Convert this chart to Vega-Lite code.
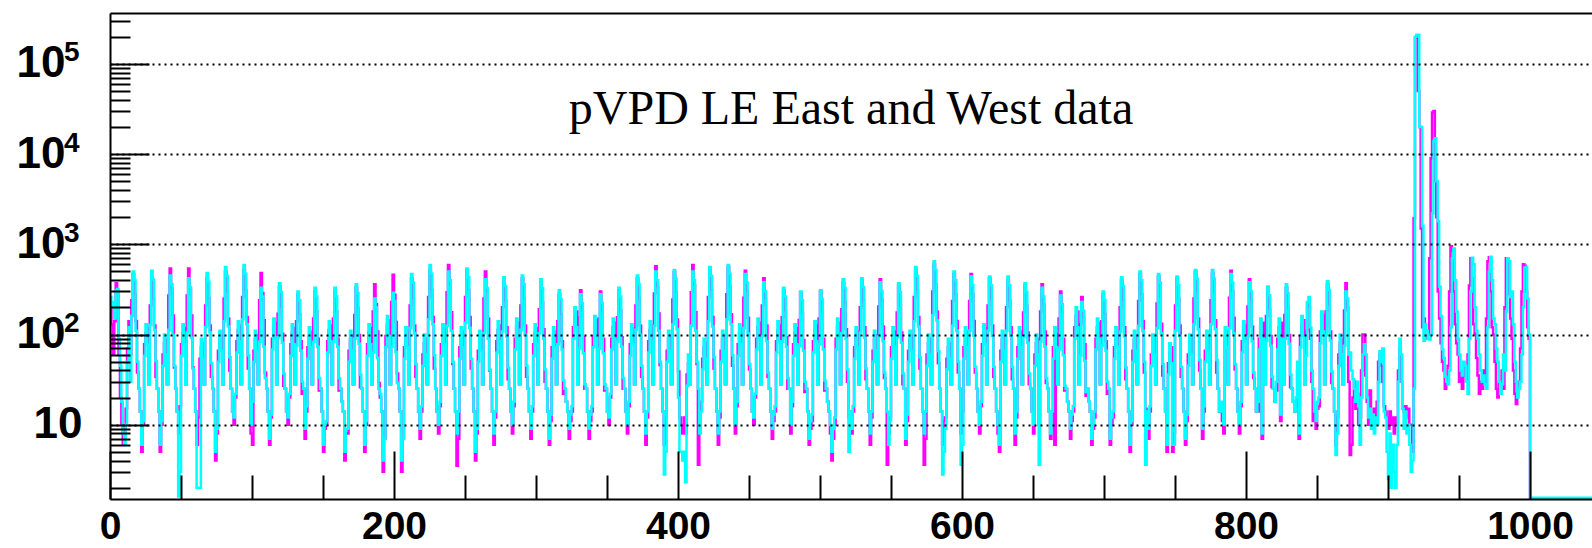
{
"$schema": "https://vega.github.io/schema/vega-lite/v6.json",
"width": 1482, "height": 486,
"autosize": {"type": "none"},
"padding": {"left": 110, "top": 13, "right": 0, "bottom": 49},
"background": "white",
"config": {"view": {"stroke": null}},
"title": {"text": "pVPD LE East and West data", "font": "Liberation Serif", "fontSize": 48, "fontWeight": "normal", "color": "black", "anchor": "middle", "frame": "group", "baseline": "alphabetic", "offset": -173},
"data": {"values": [
{"b":0,"c":260,"m":200},{"b":1,"c":200,"m":130},{"b":2,"c":230,"m":60},{"b":3,"c":150,"m":140},{"b":4,"c":310,"m":370},{"b":5,"c":320,"m":300},{"b":6,"c":90,"m":60},{"b":7,"c":45,"m":20},{"b":8,"c":18,"m":10},{"b":9,"c":8,"m":6},{"b":10,"c":6,"m":9},{"b":11,"c":10,"m":15},{"b":12,"c":50,"m":70},{"b":13,"c":120,"m":140},{"b":14,"c":30,"m":60},{"b":15,"c":160,"m":240},
{"b":16,"c":500,"m":470},{"b":17,"c":400,"m":282},{"b":18,"c":110,"m":141},{"b":19,"c":50,"m":38},{"b":20,"c":25,"m":25},{"b":21,"c":14,"m":14},{"b":22,"c":6,"m":5},{"b":23,"c":11,"m":10},{"b":24,"c":58,"m":78},{"b":25,"c":130,"m":104},{"b":26,"c":78,"m":117},{"b":27,"c":28,"m":28},{"b":28,"c":128,"m":210},
{"b":29,"c":510,"m":420},{"b":30,"c":408,"m":252},{"b":31,"c":112,"m":126},{"b":32,"c":51,"m":34},{"b":33,"c":25,"m":25},{"b":34,"c":14,"m":14},{"b":35,"c":6,"m":5},{"b":36,"c":11,"m":10},{"b":37,"c":45,"m":60},{"b":38,"c":100,"m":80},{"b":39,"c":60,"m":90},{"b":40,"c":28,"m":28},{"b":41,"c":113,"m":270},
{"b":42,"c":450,"m":540},{"b":43,"c":360,"m":324},{"b":44,"c":99,"m":162},{"b":45,"c":45,"m":43},{"b":46,"c":25,"m":25},{"b":47,"c":14,"m":14},{"b":48,"c":1.6,"m":8},{"b":49,"c":3,"m":16},{"b":50,"c":58,"m":78},{"b":51,"c":130,"m":104},{"b":52,"c":78,"m":117},{"b":53,"c":28,"m":28},{"b":54,"c":105,"m":270},
{"b":55,"c":420,"m":540},{"b":56,"c":336,"m":324},{"b":57,"c":92,"m":162},{"b":58,"c":42,"m":43},{"b":59,"c":25,"m":25},{"b":60,"c":14,"m":14},{"b":61,"c":2,"m":6},{"b":62,"c":2,"m":12},{"b":63,"c":2,"m":54},{"b":64,"c":90,"m":72},{"b":65,"c":54,"m":81},{"b":66,"c":28,"m":28},{"b":67,"c":120,"m":210},
{"b":68,"c":480,"m":420},{"b":69,"c":384,"m":252},{"b":70,"c":106,"m":126},{"b":71,"c":48,"m":34},{"b":72,"c":25,"m":25},{"b":73,"c":14,"m":14},{"b":74,"c":5,"m":4},{"b":75,"c":9,"m":8},{"b":76,"c":50,"m":66},{"b":77,"c":110,"m":88},{"b":78,"c":66,"m":99},{"b":79,"c":28,"m":28},{"b":80,"c":140,"m":250},
{"b":81,"c":560,"m":500},{"b":82,"c":448,"m":300},{"b":83,"c":123,"m":150},{"b":84,"c":56,"m":40},{"b":85,"c":25,"m":25},{"b":86,"c":14,"m":14},{"b":87,"c":12,"m":10},{"b":88,"c":22,"m":20},{"b":89,"c":63,"m":84},{"b":90,"c":140,"m":112},{"b":91,"c":84,"m":126},{"b":92,"c":28,"m":28},{"b":93,"c":148,"m":260},
{"b":94,"c":590,"m":520},{"b":95,"c":472,"m":312},{"b":96,"c":130,"m":156},{"b":97,"c":59,"m":42},{"b":98,"c":25,"m":25},{"b":99,"c":10,"m":8},{"b":100,"c":18,"m":6},{"b":101,"c":50,"m":66},{"b":102,"c":110,"m":88},{"b":103,"c":66,"m":99},{"b":104,"c":28,"m":28},{"b":105,"c":83,"m":240},
{"b":106,"c":330,"m":480},{"b":107,"c":264,"m":288},{"b":108,"c":73,"m":144},{"b":109,"c":33,"m":38},{"b":110,"c":25,"m":25},{"b":111,"c":14,"m":14},{"b":112,"c":7,"m":6},{"b":113,"c":13,"m":12},{"b":114,"c":68,"m":90},{"b":115,"c":150,"m":120},{"b":116,"c":90,"m":135},{"b":117,"c":28,"m":28},{"b":118,"c":93,"m":170},
{"b":119,"c":370,"m":340},{"b":120,"c":296,"m":204},{"b":121,"c":81,"m":102},{"b":122,"c":37,"m":27},{"b":123,"c":25,"m":25},{"b":124,"c":14,"m":14},{"b":125,"c":12,"m":10},{"b":126,"c":22,"m":20},{"b":127,"c":58,"m":78},{"b":128,"c":130,"m":104},{"b":129,"c":78,"m":117},{"b":130,"c":28,"m":28},{"b":131,"c":75,"m":140},
{"b":132,"c":300,"m":280},{"b":133,"c":240,"m":168},{"b":134,"c":66,"m":84},{"b":135,"c":30,"m":22},{"b":136,"c":25,"m":25},{"b":137,"c":9,"m":7},{"b":138,"c":16,"m":14},{"b":139,"c":54,"m":72},{"b":140,"c":120,"m":96},{"b":141,"c":72,"m":108},{"b":142,"c":28,"m":28},{"b":143,"c":83,"m":150},
{"b":144,"c":330,"m":300},{"b":145,"c":264,"m":180},{"b":146,"c":73,"m":90},{"b":147,"c":33,"m":24},{"b":148,"c":25,"m":25},{"b":149,"c":14,"m":14},{"b":150,"c":6,"m":5},{"b":151,"c":10,"m":9},{"b":152,"c":11,"m":10},{"b":153,"c":63,"m":84},{"b":154,"c":140,"m":112},{"b":155,"c":84,"m":126},{"b":156,"c":28,"m":28},{"b":157,"c":83,"m":150},
{"b":158,"c":330,"m":300},{"b":159,"c":264,"m":180},{"b":160,"c":73,"m":90},{"b":161,"c":33,"m":24},{"b":162,"c":25,"m":25},{"b":163,"c":18,"m":18},{"b":164,"c":14,"m":14},{"b":165,"c":5,"m":4},{"b":166,"c":9,"m":8},{"b":167,"c":9,"m":8},{"b":168,"c":50,"m":66},{"b":169,"c":110,"m":88},{"b":170,"c":66,"m":99},{"b":171,"c":28,"m":28},{"b":172,"c":90,"m":165},
{"b":173,"c":360,"m":330},{"b":174,"c":288,"m":198},{"b":175,"c":79,"m":99},{"b":176,"c":36,"m":26},{"b":177,"c":25,"m":25},{"b":178,"c":14,"m":14},{"b":179,"c":6,"m":5},{"b":180,"c":11,"m":10},{"b":181,"c":58,"m":78},{"b":182,"c":130,"m":104},{"b":183,"c":78,"m":117},{"b":184,"c":28,"m":28},{"b":185,"c":63,"m":180},
{"b":186,"c":250,"m":360},{"b":187,"c":200,"m":216},{"b":188,"c":55,"m":108},{"b":189,"c":25,"m":29},{"b":190,"c":22,"m":20},{"b":191,"c":14,"m":14},{"b":192,"c":4,"m":3},{"b":193,"c":7,"m":7},{"b":194,"c":72,"m":96},{"b":195,"c":160,"m":128},{"b":196,"c":96,"m":144},{"b":197,"c":28,"m":28},{"b":198,"c":73,"m":230},
{"b":199,"c":290,"m":460},{"b":200,"c":232,"m":276},{"b":201,"c":64,"m":138},{"b":202,"c":29,"m":37},{"b":203,"c":25,"m":25},{"b":204,"c":14,"m":14},{"b":205,"c":4,"m":3},{"b":206,"c":7,"m":7},{"b":207,"c":54,"m":72},{"b":208,"c":120,"m":96},{"b":209,"c":72,"m":108},{"b":210,"c":28,"m":28},{"b":211,"c":118,"m":210},
{"b":212,"c":470,"m":420},{"b":213,"c":376,"m":252},{"b":214,"c":103,"m":126},{"b":215,"c":47,"m":34},{"b":216,"c":25,"m":25},{"b":217,"c":14,"m":14},{"b":218,"c":9,"m":7},{"b":219,"c":16,"m":14},{"b":220,"c":45,"m":60},{"b":221,"c":100,"m":80},{"b":222,"c":60,"m":90},{"b":223,"c":28,"m":28},{"b":224,"c":148,"m":260},
{"b":225,"c":590,"m":520},{"b":226,"c":472,"m":312},{"b":227,"c":130,"m":156},{"b":228,"c":59,"m":42},{"b":229,"c":25,"m":25},{"b":230,"c":14,"m":14},{"b":231,"c":10,"m":8},{"b":232,"c":18,"m":16},{"b":233,"c":58,"m":78},{"b":234,"c":130,"m":104},{"b":235,"c":78,"m":117},{"b":236,"c":28,"m":28},{"b":237,"c":125,"m":295},
{"b":238,"c":500,"m":590},{"b":239,"c":400,"m":354},{"b":240,"c":110,"m":177},{"b":241,"c":50,"m":47},{"b":242,"c":25,"m":25},{"b":243,"c":14,"m":14},{"b":244,"c":8,"m":3.5},{"b":245,"c":14,"m":7},{"b":246,"c":54,"m":72},{"b":247,"c":120,"m":96},{"b":248,"c":72,"m":108},{"b":249,"c":28,"m":28},{"b":250,"c":135,"m":260},
{"b":251,"c":540,"m":520},{"b":252,"c":432,"m":312},{"b":253,"c":119,"m":156},{"b":254,"c":54,"m":42},{"b":255,"c":25,"m":25},{"b":256,"c":14,"m":14},{"b":257,"c":5,"m":4},{"b":258,"c":9,"m":8},{"b":259,"c":50,"m":66},{"b":260,"c":110,"m":88},{"b":261,"c":66,"m":99},{"b":262,"c":28,"m":28},{"b":263,"c":103,"m":250},
{"b":264,"c":410,"m":500},{"b":265,"c":328,"m":300},{"b":266,"c":90,"m":150},{"b":267,"c":41,"m":40},{"b":268,"c":25,"m":25},{"b":269,"c":14,"m":14},{"b":270,"c":8,"m":6},{"b":271,"c":14,"m":12},{"b":272,"c":63,"m":84},{"b":273,"c":140,"m":112},{"b":274,"c":84,"m":126},{"b":275,"c":28,"m":28},{"b":276,"c":108,"m":200},
{"b":277,"c":430,"m":400},{"b":278,"c":344,"m":240},{"b":279,"c":95,"m":120},{"b":280,"c":43,"m":32},{"b":281,"c":25,"m":25},{"b":282,"c":14,"m":14},{"b":283,"c":10,"m":8},{"b":284,"c":18,"m":16},{"b":285,"c":68,"m":90},{"b":286,"c":150,"m":120},{"b":287,"c":90,"m":135},{"b":288,"c":28,"m":28},{"b":289,"c":113,"m":210},
{"b":290,"c":450,"m":420},{"b":291,"c":360,"m":252},{"b":292,"c":99,"m":126},{"b":293,"c":45,"m":34},{"b":294,"c":25,"m":25},{"b":295,"c":14,"m":14},{"b":296,"c":9,"m":7},{"b":297,"c":16,"m":14},{"b":298,"c":58,"m":78},{"b":299,"c":130,"m":104},{"b":300,"c":78,"m":117},{"b":301,"c":28,"m":28},{"b":302,"c":103,"m":190},
{"b":303,"c":410,"m":380},{"b":304,"c":328,"m":228},{"b":305,"c":90,"m":114},{"b":306,"c":41,"m":30},{"b":307,"c":25,"m":25},{"b":308,"c":14,"m":14},{"b":309,"c":7,"m":6},{"b":310,"c":13,"m":11},{"b":311,"c":54,"m":72},{"b":312,"c":120,"m":96},{"b":313,"c":72,"m":108},{"b":314,"c":28,"m":28},{"b":315,"c":78,"m":140},
{"b":316,"c":310,"m":280},{"b":317,"c":248,"m":168},{"b":318,"c":68,"m":84},{"b":319,"c":31,"m":22},{"b":320,"c":25,"m":25},{"b":321,"c":18,"m":18},{"b":322,"c":14,"m":14},{"b":323,"c":9,"m":7},{"b":324,"c":13,"m":11},{"b":325,"c":16,"m":14},{"b":326,"c":90,"m":120},{"b":327,"c":200,"m":160},{"b":328,"c":120,"m":180},{"b":329,"c":28,"m":28},{"b":330,"c":70,"m":155},
{"b":331,"c":280,"m":310},{"b":332,"c":224,"m":186},{"b":333,"c":62,"m":93},{"b":334,"c":28,"m":25},{"b":335,"c":25,"m":25},{"b":336,"c":14,"m":14},{"b":337,"c":9,"m":7},{"b":338,"c":13,"m":11},{"b":339,"c":16,"m":14},{"b":340,"c":72,"m":96},{"b":341,"c":160,"m":128},{"b":342,"c":96,"m":144},{"b":343,"c":28,"m":28},{"b":344,"c":70,"m":150},
{"b":345,"c":280,"m":300},{"b":346,"c":224,"m":180},{"b":347,"c":62,"m":90},{"b":348,"c":28,"m":24},{"b":349,"c":25,"m":25},{"b":350,"c":14,"m":14},{"b":351,"c":12,"m":10},{"b":352,"c":22,"m":20},{"b":353,"c":68,"m":90},{"b":354,"c":150,"m":120},{"b":355,"c":90,"m":135},{"b":356,"c":28,"m":28},{"b":357,"c":83,"m":155},
{"b":358,"c":330,"m":310},{"b":359,"c":264,"m":186},{"b":360,"c":73,"m":93},{"b":361,"c":33,"m":25},{"b":362,"c":25,"m":25},{"b":363,"c":14,"m":14},{"b":364,"c":10,"m":8},{"b":365,"c":18,"m":16},{"b":366,"c":58,"m":78},{"b":367,"c":130,"m":104},{"b":368,"c":78,"m":117},{"b":369,"c":28,"m":28},{"b":370,"c":113,"m":210},
{"b":371,"c":450,"m":420},{"b":372,"c":360,"m":252},{"b":373,"c":99,"m":126},{"b":374,"c":45,"m":34},{"b":375,"c":25,"m":25},{"b":376,"c":14,"m":14},{"b":377,"c":8,"m":6},{"b":378,"c":14,"m":12},{"b":379,"c":63,"m":84},{"b":380,"c":140,"m":112},{"b":381,"c":84,"m":126},{"b":382,"c":28,"m":28},{"b":383,"c":125,"m":285},
{"b":384,"c":500,"m":570},{"b":385,"c":400,"m":342},{"b":386,"c":110,"m":171},{"b":387,"c":50,"m":46},{"b":388,"c":25,"m":25},{"b":389,"c":14,"m":14},{"b":390,"c":2.8,"m":6},{"b":391,"c":5,"m":12},{"b":392,"c":50,"m":66},{"b":393,"c":110,"m":88},{"b":394,"c":66,"m":99},{"b":395,"c":28,"m":28},{"b":396,"c":130,"m":245},
{"b":397,"c":520,"m":490},{"b":398,"c":416,"m":294},{"b":399,"c":114,"m":147},{"b":400,"c":20,"m":39},{"b":401,"c":5,"m":12},{"b":402,"c":5,"m":10},{"b":403,"c":4,"m":8},{"b":404,"c":5,"m":12},{"b":405,"c":2.3,"m":8},{"b":406,"c":27,"m":36},{"b":407,"c":60,"m":48},{"b":408,"c":28,"m":28},{"b":409,"c":125,"m":295},
{"b":410,"c":500,"m":590},{"b":411,"c":400,"m":354},{"b":412,"c":110,"m":177},{"b":413,"c":50,"m":47},{"b":414,"c":25,"m":3.6},{"b":415,"c":8,"m":9},{"b":416,"c":14,"m":18},{"b":417,"c":41,"m":54},{"b":418,"c":90,"m":72},{"b":419,"c":54,"m":81},{"b":420,"c":28,"m":28},{"b":421,"c":140,"m":260},
{"b":422,"c":560,"m":520},{"b":423,"c":448,"m":312},{"b":424,"c":123,"m":156},{"b":425,"c":56,"m":42},{"b":426,"c":25,"m":25},{"b":427,"c":14,"m":14},{"b":428,"c":8,"m":6},{"b":429,"c":14,"m":12},{"b":430,"c":50,"m":66},{"b":431,"c":110,"m":88},{"b":432,"c":66,"m":99},{"b":433,"c":28,"m":28},{"b":434,"c":148,"m":280},
{"b":435,"c":590,"m":560},{"b":436,"c":472,"m":336},{"b":437,"c":130,"m":168},{"b":438,"c":59,"m":45},{"b":439,"c":25,"m":25},{"b":440,"c":10,"m":8},{"b":441,"c":18,"m":16},{"b":442,"c":58,"m":78},{"b":443,"c":130,"m":104},{"b":444,"c":78,"m":117},{"b":445,"c":28,"m":28},{"b":446,"c":118,"m":255},
{"b":447,"c":470,"m":510},{"b":448,"c":376,"m":306},{"b":449,"c":103,"m":153},{"b":450,"c":47,"m":41},{"b":451,"c":25,"m":25},{"b":452,"c":14,"m":14},{"b":453,"c":12,"m":10},{"b":454,"c":22,"m":20},{"b":455,"c":68,"m":90},{"b":456,"c":150,"m":120},{"b":457,"c":90,"m":135},{"b":458,"c":28,"m":28},{"b":459,"c":95,"m":210},
{"b":460,"c":380,"m":420},{"b":461,"c":304,"m":252},{"b":462,"c":84,"m":126},{"b":463,"c":38,"m":34},{"b":464,"c":25,"m":25},{"b":465,"c":14,"m":14},{"b":466,"c":9,"m":7},{"b":467,"c":13,"m":11},{"b":468,"c":16,"m":14},{"b":469,"c":63,"m":84},{"b":470,"c":140,"m":112},{"b":471,"c":84,"m":126},{"b":472,"c":28,"m":28},{"b":473,"c":83,"m":155},
{"b":474,"c":330,"m":310},{"b":475,"c":264,"m":186},{"b":476,"c":73,"m":93},{"b":477,"c":33,"m":25},{"b":478,"c":25,"m":25},{"b":479,"c":10,"m":8},{"b":480,"c":18,"m":16},{"b":481,"c":58,"m":78},{"b":482,"c":130,"m":104},{"b":483,"c":78,"m":117},{"b":484,"c":28,"m":28},{"b":485,"c":75,"m":145},
{"b":486,"c":300,"m":290},{"b":487,"c":240,"m":174},{"b":488,"c":66,"m":87},{"b":489,"c":30,"m":23},{"b":490,"c":25,"m":25},{"b":491,"c":14,"m":14},{"b":492,"c":7,"m":6},{"b":493,"c":11,"m":9},{"b":494,"c":13,"m":11},{"b":495,"c":63,"m":84},{"b":496,"c":140,"m":112},{"b":497,"c":84,"m":126},{"b":498,"c":28,"m":28},{"b":499,"c":78,"m":150},
{"b":500,"c":310,"m":300},{"b":501,"c":248,"m":180},{"b":502,"c":68,"m":90},{"b":503,"c":31,"m":24},{"b":504,"c":25,"m":25},{"b":505,"c":18,"m":18},{"b":506,"c":14,"m":14},{"b":507,"c":10,"m":8},{"b":508,"c":5,"m":4},{"b":509,"c":9,"m":7},{"b":510,"c":12,"m":10},{"b":511,"c":68,"m":90},{"b":512,"c":150,"m":120},{"b":513,"c":90,"m":135},{"b":514,"c":28,"m":28},{"b":515,"c":103,"m":190},
{"b":516,"c":410,"m":380},{"b":517,"c":328,"m":228},{"b":518,"c":90,"m":114},{"b":519,"c":41,"m":30},{"b":520,"c":5,"m":12},{"b":521,"c":14,"m":14},{"b":522,"c":9,"m":8},{"b":523,"c":16,"m":14},{"b":524,"c":54,"m":72},{"b":525,"c":120,"m":96},{"b":526,"c":72,"m":108},{"b":527,"c":28,"m":28},{"b":528,"c":105,"m":200},
{"b":529,"c":420,"m":400},{"b":530,"c":336,"m":240},{"b":531,"c":92,"m":120},{"b":532,"c":42,"m":32},{"b":533,"c":25,"m":25},{"b":534,"c":14,"m":14},{"b":535,"c":8,"m":6},{"b":536,"c":14,"m":12},{"b":537,"c":50,"m":66},{"b":538,"c":110,"m":88},{"b":539,"c":66,"m":99},{"b":540,"c":28,"m":28},{"b":541,"c":95,"m":205},
{"b":542,"c":380,"m":410},{"b":543,"c":304,"m":246},{"b":544,"c":84,"m":123},{"b":545,"c":38,"m":33},{"b":546,"c":25,"m":25},{"b":547,"c":14,"m":3.6},{"b":548,"c":6,"m":8},{"b":549,"c":11,"m":12},{"b":550,"c":54,"m":72},{"b":551,"c":120,"m":96},{"b":552,"c":72,"m":108},{"b":553,"c":28,"m":28},{"b":554,"c":93,"m":175},
{"b":555,"c":370,"m":350},{"b":556,"c":296,"m":210},{"b":557,"c":81,"m":105},{"b":558,"c":37,"m":28},{"b":559,"c":25,"m":25},{"b":560,"c":7,"m":6},{"b":561,"c":13,"m":11},{"b":562,"c":50,"m":66},{"b":563,"c":110,"m":88},{"b":564,"c":66,"m":99},{"b":565,"c":28,"m":28},{"b":566,"c":140,"m":260},
{"b":567,"c":560,"m":520},{"b":568,"c":448,"m":312},{"b":569,"c":123,"m":156},{"b":570,"c":56,"m":42},{"b":571,"c":25,"m":25},{"b":572,"c":14,"m":14},{"b":573,"c":8,"m":3.6},{"b":574,"c":14,"m":7},{"b":575,"c":45,"m":60},{"b":576,"c":100,"m":80},{"b":577,"c":60,"m":90},{"b":578,"c":28,"m":28},{"b":579,"c":163,"m":300},
{"b":580,"c":650,"m":600},{"b":581,"c":520,"m":360},{"b":582,"c":143,"m":180},{"b":583,"c":65,"m":48},{"b":584,"c":25,"m":25},{"b":585,"c":14,"m":14},{"b":586,"c":2.8,"m":6},{"b":587,"c":5,"m":11},{"b":588,"c":9,"m":12},{"b":589,"c":41,"m":54},{"b":590,"c":90,"m":72},{"b":591,"c":54,"m":81},{"b":592,"c":28,"m":28},{"b":593,"c":125,"m":235},
{"b":594,"c":500,"m":470},{"b":595,"c":400,"m":282},{"b":596,"c":110,"m":141},{"b":597,"c":50,"m":38},{"b":598,"c":25,"m":25},{"b":599,"c":3.6,"m":8},{"b":600,"c":6,"m":14},{"b":601,"c":54,"m":72},{"b":602,"c":120,"m":96},{"b":603,"c":72,"m":108},{"b":604,"c":28,"m":28},{"b":605,"c":110,"m":235},
{"b":606,"c":440,"m":470},{"b":607,"c":352,"m":282},{"b":608,"c":97,"m":141},{"b":609,"c":44,"m":38},{"b":610,"c":25,"m":25},{"b":611,"c":14,"m":14},{"b":612,"c":10,"m":8},{"b":613,"c":18,"m":16},{"b":614,"c":58,"m":78},{"b":615,"c":130,"m":104},{"b":616,"c":78,"m":117},{"b":617,"c":28,"m":28},{"b":618,"c":110,"m":210},
{"b":619,"c":440,"m":420},{"b":620,"c":352,"m":252},{"b":621,"c":97,"m":126},{"b":622,"c":44,"m":34},{"b":623,"c":25,"m":25},{"b":624,"c":14,"m":14},{"b":625,"c":10,"m":8},{"b":626,"c":6,"m":5},{"b":627,"c":50,"m":66},{"b":628,"c":110,"m":88},{"b":629,"c":66,"m":99},{"b":630,"c":28,"m":28},{"b":631,"c":110,"m":200},
{"b":632,"c":440,"m":400},{"b":633,"c":352,"m":240},{"b":634,"c":97,"m":120},{"b":635,"c":44,"m":32},{"b":636,"c":25,"m":25},{"b":637,"c":8,"m":6},{"b":638,"c":14,"m":12},{"b":639,"c":54,"m":72},{"b":640,"c":120,"m":96},{"b":641,"c":72,"m":108},{"b":642,"c":28,"m":28},{"b":643,"c":93,"m":175},
{"b":644,"c":370,"m":350},{"b":645,"c":296,"m":210},{"b":646,"c":81,"m":105},{"b":647,"c":37,"m":28},{"b":648,"c":25,"m":25},{"b":649,"c":14,"m":14},{"b":650,"c":10,"m":8},{"b":651,"c":45,"m":60},{"b":652,"c":100,"m":80},{"b":653,"c":60,"m":90},{"b":654,"c":3.6,"m":10},{"b":655,"c":83,"m":180},
{"b":656,"c":330,"m":360},{"b":657,"c":264,"m":216},{"b":658,"c":73,"m":108},{"b":659,"c":33,"m":29},{"b":660,"c":25,"m":25},{"b":661,"c":14,"m":14},{"b":662,"c":8,"m":7},{"b":663,"c":14,"m":14},{"b":664,"c":54,"m":72},{"b":665,"c":120,"m":6},{"b":666,"c":72,"m":100},{"b":667,"c":28,"m":28},{"b":668,"c":68,"m":150},
{"b":669,"c":270,"m":300},{"b":670,"c":216,"m":180},{"b":671,"c":59,"m":90},{"b":672,"c":27,"m":24},{"b":673,"c":25,"m":25},{"b":674,"c":18,"m":18},{"b":675,"c":14,"m":14},{"b":676,"c":9,"m":7},{"b":677,"c":13,"m":11},{"b":678,"c":16,"m":14},{"b":679,"c":90,"m":120},{"b":680,"c":200,"m":160},{"b":681,"c":120,"m":180},{"b":682,"c":28,"m":28},{"b":683,"c":58,"m":130},
{"b":684,"c":230,"m":260},{"b":685,"c":184,"m":156},{"b":686,"c":51,"m":78},{"b":687,"c":23,"m":21},{"b":688,"c":25,"m":25},{"b":689,"c":18,"m":18},{"b":690,"c":14,"m":14},{"b":691,"c":7,"m":6},{"b":692,"c":10,"m":9},{"b":693,"c":14,"m":12},{"b":694,"c":68,"m":90},{"b":695,"c":150,"m":120},{"b":696,"c":90,"m":135},{"b":697,"c":28,"m":28},{"b":698,"c":75,"m":140},
{"b":699,"c":300,"m":280},{"b":700,"c":240,"m":168},{"b":701,"c":66,"m":84},{"b":702,"c":30,"m":22},{"b":703,"c":25,"m":25},{"b":704,"c":7,"m":6},{"b":705,"c":12,"m":10},{"b":706,"c":14,"m":12},{"b":707,"c":54,"m":72},{"b":708,"c":120,"m":96},{"b":709,"c":72,"m":108},{"b":710,"c":28,"m":28},{"b":711,"c":108,"m":200},
{"b":712,"c":430,"m":400},{"b":713,"c":344,"m":240},{"b":714,"c":95,"m":120},{"b":715,"c":43,"m":32},{"b":716,"c":25,"m":25},{"b":717,"c":14,"m":14},{"b":718,"c":6,"m":5},{"b":719,"c":11,"m":10},{"b":720,"c":50,"m":66},{"b":721,"c":110,"m":88},{"b":722,"c":66,"m":99},{"b":723,"c":28,"m":28},{"b":724,"c":125,"m":235},
{"b":725,"c":500,"m":470},{"b":726,"c":400,"m":282},{"b":727,"c":110,"m":141},{"b":728,"c":50,"m":38},{"b":729,"c":3.6,"m":15},{"b":730,"c":14,"m":14},{"b":731,"c":9,"m":7},{"b":732,"c":16,"m":14},{"b":733,"c":45,"m":60},{"b":734,"c":100,"m":80},{"b":735,"c":60,"m":90},{"b":736,"c":28,"m":28},{"b":737,"c":118,"m":220},
{"b":738,"c":470,"m":440},{"b":739,"c":376,"m":264},{"b":740,"c":103,"m":132},{"b":741,"c":47,"m":35},{"b":742,"c":25,"m":25},{"b":743,"c":14,"m":14},{"b":744,"c":6,"m":5},{"b":745,"c":36,"m":48},{"b":746,"c":80,"m":64},{"b":747,"c":48,"m":72},{"b":748,"c":6,"m":5},{"b":749,"c":6,"m":8},{"b":750,"c":110,"m":210},
{"b":751,"c":440,"m":420},{"b":752,"c":352,"m":252},{"b":753,"c":97,"m":126},{"b":754,"c":44,"m":34},{"b":755,"c":25,"m":25},{"b":756,"c":14,"m":14},{"b":757,"c":7,"m":6},{"b":758,"c":13,"m":11},{"b":759,"c":45,"m":60},{"b":760,"c":100,"m":80},{"b":761,"c":60,"m":90},{"b":762,"c":28,"m":28},{"b":763,"c":130,"m":250},
{"b":764,"c":520,"m":500},{"b":765,"c":416,"m":300},{"b":766,"c":114,"m":150},{"b":767,"c":52,"m":40},{"b":768,"c":25,"m":25},{"b":769,"c":9,"m":7},{"b":770,"c":16,"m":14},{"b":771,"c":50,"m":66},{"b":772,"c":110,"m":88},{"b":773,"c":66,"m":99},{"b":774,"c":28,"m":28},{"b":775,"c":130,"m":240},
{"b":776,"c":520,"m":480},{"b":777,"c":416,"m":288},{"b":778,"c":114,"m":144},{"b":779,"c":52,"m":38},{"b":780,"c":25,"m":25},{"b":781,"c":14,"m":14},{"b":782,"c":18,"m":14},{"b":783,"c":14,"m":11},{"b":784,"c":10,"m":8},{"b":785,"c":120,"m":96},{"b":786,"c":72,"m":108},{"b":787,"c":28,"m":28},{"b":788,"c":118,"m":255},
{"b":789,"c":470,"m":510},{"b":790,"c":376,"m":306},{"b":791,"c":103,"m":153},{"b":792,"c":47,"m":41},{"b":793,"c":25,"m":25},{"b":794,"c":14,"m":14},{"b":795,"c":10,"m":8},{"b":796,"c":18,"m":16},{"b":797,"c":63,"m":84},{"b":798,"c":140,"m":112},{"b":799,"c":84,"m":126},{"b":800,"c":28,"m":28},{"b":801,"c":95,"m":205},
{"b":802,"c":380,"m":410},{"b":803,"c":304,"m":246},{"b":804,"c":84,"m":123},{"b":805,"c":38,"m":33},{"b":806,"c":25,"m":25},{"b":807,"c":14,"m":14},{"b":808,"c":18,"m":14},{"b":809,"c":68,"m":90},{"b":810,"c":150,"m":120},{"b":811,"c":8,"m":7},{"b":812,"c":90,"m":135},{"b":813,"c":28,"m":28},{"b":814,"c":85,"m":160},
{"b":815,"c":340,"m":320},{"b":816,"c":272,"m":192},{"b":817,"c":75,"m":96},{"b":818,"c":34,"m":26},{"b":819,"c":25,"m":25},{"b":820,"c":18,"m":18},{"b":821,"c":30,"m":24},{"b":822,"c":68,"m":90},{"b":823,"c":150,"m":120},{"b":824,"c":13,"m":11},{"b":825,"c":90,"m":135},{"b":826,"c":28,"m":28},{"b":827,"c":90,"m":165},
{"b":828,"c":360,"m":330},{"b":829,"c":288,"m":198},{"b":830,"c":79,"m":99},{"b":831,"c":36,"m":26},{"b":832,"c":25,"m":25},{"b":833,"c":18,"m":18},{"b":834,"c":14,"m":14},{"b":835,"c":20,"m":16},{"b":836,"c":50,"m":40},{"b":837,"c":8,"m":7},{"b":838,"c":72,"m":96},{"b":839,"c":160,"m":128},{"b":840,"c":96,"m":144},{"b":841,"c":28,"m":28},{"b":842,"c":58,"m":110},
{"b":843,"c":230,"m":220},{"b":844,"c":260,"m":200},{"b":845,"c":120,"m":90},{"b":846,"c":40,"m":30},{"b":847,"c":25,"m":11},{"b":848,"c":14,"m":14},{"b":849,"c":11,"m":9},{"b":850,"c":18,"m":15},{"b":851,"c":20,"m":16},{"b":852,"c":80,"m":108},{"b":853,"c":180,"m":144},{"b":854,"c":108,"m":162},{"b":855,"c":28,"m":28},{"b":856,"c":98,"m":180},
{"b":857,"c":390,"m":360},{"b":858,"c":312,"m":216},{"b":859,"c":86,"m":108},{"b":860,"c":39,"m":29},{"b":861,"c":25,"m":25},{"b":862,"c":14,"m":14},{"b":863,"c":4.6,"m":6},{"b":864,"c":8,"m":12},{"b":865,"c":45,"m":60},{"b":866,"c":100,"m":80},{"b":867,"c":60,"m":90},{"b":868,"c":28,"m":28},{"b":869,"c":75,"m":185},
{"b":870,"c":300,"m":370},{"b":871,"c":250,"m":200},{"b":872,"c":60,"m":30},{"b":873,"c":63,"m":4.6},{"b":874,"c":40,"m":6},{"b":875,"c":32,"m":20},{"b":876,"c":25,"m":30},{"b":877,"c":18,"m":15},{"b":878,"c":30,"m":22},{"b":879,"c":16,"m":10},{"b":880,"c":6,"m":12},{"b":881,"c":20,"m":40},{"b":882,"c":60,"m":100},{"b":883,"c":78,"m":100},{"b":884,"c":60,"m":35},{"b":885,"c":20,"m":18},{"b":886,"c":12,"m":10},{"b":887,"c":15,"m":24},{"b":888,"c":9,"m":13},{"b":889,"c":13,"m":9},{"b":890,"c":8,"m":15},{"b":891,"c":12,"m":11},{"b":892,"c":10,"m":18},{"b":893,"c":30,"m":50},{"b":894,"c":65,"m":60},{"b":895,"c":50,"m":45},{"b":896,"c":70,"m":30},{"b":897,"c":14,"m":16},{"b":898,"c":12,"m":14},{"b":899,"c":5,"m":12},{"b":900,"c":2.5,"m":9},{"b":901,"c":8,"m":14},{"b":902,"c":2,"m":10},{"b":903,"c":6,"m":12},{"b":904,"c":3,"m":8},{"b":905,"c":2,"m":12},{"b":906,"c":6,"m":10},{"b":907,"c":30,"m":40},{"b":908,"c":90,"m":70},{"b":909,"c":60,"m":30},{"b":910,"c":15,"m":15},{"b":911,"c":9,"m":14},{"b":912,"c":14,"m":16},{"b":913,"c":8,"m":12},{"b":914,"c":10,"m":15},{"b":915,"c":6,"m":10},{"b":916,"c":3,"m":10},{"b":917,"c":4,"m":5},{"b":918,"c":25,"m":1950},
{"b":919,"c":200000,"m":195000},{"b":920,"c":210000,"m":200000},{"b":921,"c":210000,"m":50000},{"b":922,"c":20000,"m":20000},{"b":923,"c":20000,"m":1500},{"b":924,"c":1600,"m":120},{"b":925,"c":85,"m":150},{"b":926,"c":130,"m":90},{"b":927,"c":110,"m":95},{"b":928,"c":90,"m":100},{"b":929,"c":88,"m":700},{"b":930,"c":100,"m":9000},{"b":931,"c":2200,"m":29000},{"b":932,"c":14000,"m":30000},{"b":933,"c":15000,"m":5000},{"b":934,"c":5000,"m":2000},{"b":935,"c":1800,"m":300},{"b":936,"c":340,"m":150},{"b":937,"c":160,"m":80},{"b":938,"c":68,"m":50},{"b":939,"c":55,"m":40},{"b":940,"c":34,"m":25},{"b":941,"c":30,"m":28},{"b":942,"c":28,"m":45},
{"b":943,"c":40,"m":300},{"b":944,"c":120,"m":950},{"b":945,"c":700,"m":850},{"b":946,"c":900,"m":300},{"b":947,"c":400,"m":130},{"b":948,"c":180,"m":80},{"b":949,"c":90,"m":60},{"b":950,"c":60,"m":30},{"b":951,"c":40,"m":40},{"b":952,"c":35,"m":25},{"b":953,"c":50,"m":45},{"b":954,"c":45,"m":35},{"b":955,"c":30,"m":30},{"b":956,"c":22,"m":60},{"b":957,"c":90,"m":350},{"b":958,"c":300,"m":700},{"b":959,"c":710,"m":420},{"b":960,"c":600,"m":130},{"b":961,"c":200,"m":100},{"b":962,"c":110,"m":55},{"b":963,"c":90,"m":35},{"b":964,"c":60,"m":22},{"b":965,"c":40,"m":30},{"b":966,"c":30,"m":25},{"b":967,"c":35,"m":40},{"b":968,"c":28,"m":30},{"b":969,"c":25,"m":150},{"b":970,"c":120,"m":650},{"b":971,"c":500,"m":720},{"b":972,"c":730,"m":300},{"b":973,"c":400,"m":120},{"b":974,"c":150,"m":100},{"b":975,"c":130,"m":50},{"b":976,"c":70,"m":25},{"b":977,"c":50,"m":20},{"b":978,"c":30,"m":30},{"b":979,"c":22,"m":24},{"b":980,"c":28,"m":40},{"b":981,"c":60,"m":25},{"b":982,"c":40,"m":200},{"b":983,"c":180,"m":700},{"b":984,"c":700,"m":650},{"b":985,"c":650,"m":280},{"b":986,"c":260,"m":150},{"b":987,"c":300,"m":90},{"b":988,"c":130,"m":40},{"b":989,"c":50,"m":22},{"b":990,"c":30,"m":17},{"b":991,"c":20,"m":25},{"b":992,"c":25,"m":30},{"b":993,"c":30,"m":70},{"b":994,"c":60,"m":300},{"b":995,"c":200,"m":600},{"b":996,"c":550,"m":580},{"b":997,"c":560,"m":300},{"b":998,"c":250,"m":120},{"b":999,"c":100,"m":90},
{"b":1000,"c":1.55,"m":1.5},{"b":1044,"c":1.55,"m":1.5}
]},
"layer": [
{"mark": {"type": "line", "interpolate": "step-after", "color": "#ff00ff", "strokeWidth": 2.5, "clip": true},
 "encoding": {
  "x": {"field": "b", "type": "quantitative", "scale": {"domain": [0, 1043.66], "nice": false, "zero": false},
   "axis": {"orient": "bottom", "title": null, "values": [0,50,100,150,200,250,300,350,400,450,500,550,600,650,700,750,800,850,900,950,1000],
    "labelExpr": "datum.value % 200 === 0 ? '' + datum.value : ''",
    "tickSize": {"condition": {"test": "datum.value % 200 === 0", "value": -48}, "value": -24},
    "tickWidth": 2, "tickColor": "black", "domainColor": "black", "domainWidth": 2,
    "labelFont": "Liberation Sans", "labelFontWeight": "bold", "labelFontSize": 39, "labelColor": "black",
    "labelPadding": 56, "labelFlush": false, "labelOverlap": false, "labelBound": false, "grid": false, "zindex": 1}},
  "y": {"field": "m", "type": "quantitative", "scale": {"type": "log", "domain": [1.5, 367000], "nice": false},
   "axis": {"orient": "left", "title": null,
    "values": [2,3,4,5,6,7,8,9,10,20,30,40,50,60,70,80,90,100,200,300,400,500,600,700,800,900,1000,2000,3000,4000,5000,6000,7000,8000,9000,10000,20000,30000,40000,50000,60000,70000,80000,90000,100000,200000,300000],
    "labelExpr": "indexof([10,100,1000,10000,100000], datum.value) >= 0 ? '10' : ''",
    "tickSize": {"condition": {"test": "indexof([10,100,1000,10000,100000], datum.value) >= 0", "value": -39}, "value": -20},
    "tickWidth": 2, "tickColor": "black", "domainColor": "black", "domainWidth": 2,
    "grid": true, "gridColor": "black", "gridWidth": 2, "gridDash": [2, 4],
    "gridOpacity": {"condition": {"test": "indexof([10,100,1000,10000,100000], datum.value) >= 0", "value": 1}, "value": 0},
    "labelFont": "Liberation Sans", "labelFontWeight": "bold", "labelFontSize": 44, "labelColor": "black",
    "labelPadding": {"condition": {"test": "datum.value === 10", "value": 67}, "value": 84},
    "labelFlush": false, "labelOverlap": false, "labelBound": false, "zindex": 1}}
 }},
{"mark": {"type": "line", "interpolate": "step-after", "color": "#00ffff", "strokeWidth": 2.5, "clip": true},
 "encoding": {
  "x": {"field": "b", "type": "quantitative", "scale": {"domain": [0, 1043.66], "nice": false, "zero": false},
   "axis": {"orient": "top", "title": null, "labels": false, "ticks": false, "grid": false, "domain": true, "domainColor": "black", "domainWidth": 2, "zindex": 1}},
  "y": {"field": "c", "type": "quantitative", "scale": {"type": "log", "domain": [1.5, 367000], "nice": false},
   "axis": {"orient": "left", "title": null, "values": [100,1000,10000,100000],
    "labelExpr": "'' + round(log(datum.value) / LN10)",
    "ticks": false, "tickSize": 0, "domain": false, "grid": false,
    "labelFont": "Liberation Sans", "labelFontWeight": "bold", "labelFontSize": 28, "labelColor": "black",
    "labelAlign": "right", "labelBaseline": "alphabetic", "labelOffset": -3, "labelPadding": 31,
    "labelFlush": false, "labelOverlap": false, "labelBound": false, "zindex": 1}}
 }}
],
"resolve": {"axis": {"x": "independent", "y": "independent"}}
}
